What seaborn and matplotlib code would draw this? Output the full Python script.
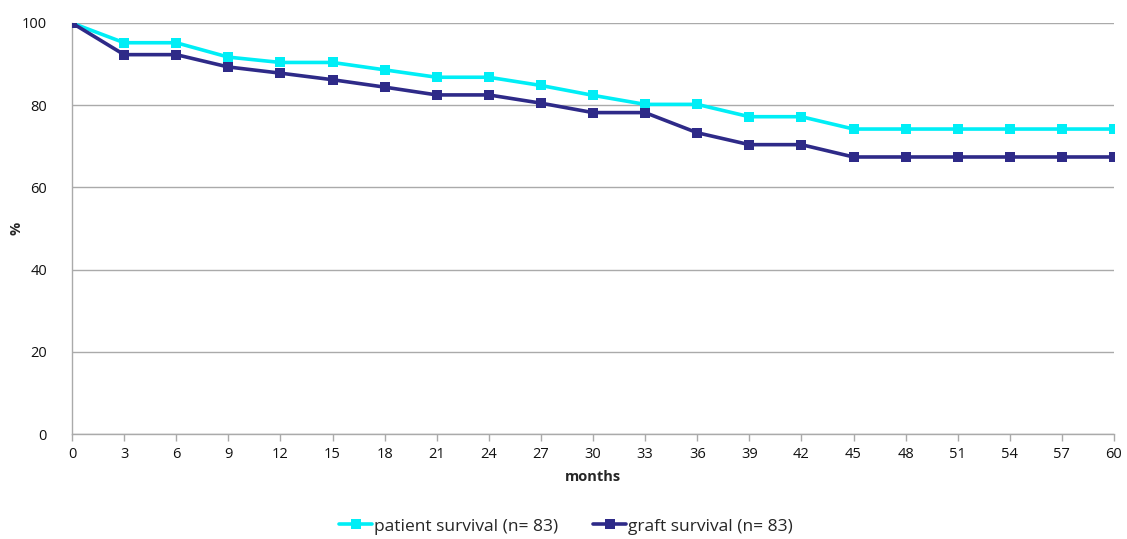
import matplotlib
matplotlib.use("Agg")
import matplotlib.pyplot as plt
import seaborn as sns
import pandas as pd

# Survival over time (months after transplantation)
months = [0, 3, 6, 9, 12, 15, 18, 21, 24, 27, 30, 33, 36, 39, 42, 45, 48, 51, 54, 57, 60]
patient_survival = [100, 95.2, 95.2, 91.7, 90.4, 90.4, 88.6, 86.8, 86.8, 84.8, 82.4, 80.2, 80.2,
                    77.2, 77.2, 74.2, 74.2, 74.2, 74.2, 74.2, 74.2]
graft_survival = [100, 92.3, 92.3, 89.3, 87.8, 86.2, 84.4, 82.5, 82.5, 80.5, 78.2, 78.2, 73.3,
                  70.4, 70.4, 67.4, 67.4, 67.4, 67.4, 67.4, 67.4]
series_names = ["patient survival (n= 83)", "graft survival (n= 83)"]
y_ticks = [0, 20, 40, 60, 80, 100]

df = pd.DataFrame({
    "months": months * 2,
    "value": patient_survival + graft_survival,
    "series": [series_names[0]] * len(months) + [series_names[1]] * len(months),
})

sns.set_theme(style="white")
plt.rcParams["font.family"] = ["Open Sans", "DejaVu Sans"]

fig = plt.figure(figsize=(11.27, 5.39), dpi=100)
ax = fig.add_axes([72 / 1127, 1 - 434 / 539, (1114 - 72) / 1127, (434 - 23) / 539])

palette = {series_names[0]: "#00EEF6", series_names[1]: "#2E2A88"}
sns.lineplot(data=df, x="months", y="value", hue="series", palette=palette,
             marker="s", markersize=7, markeredgewidth=0, linewidth=2.6,
             ax=ax, legend=True, zorder=3)

ax.set_xlim(0, 60)
ax.set_ylim(0, 100)
ax.set_xticks(months)
ax.set_xticklabels([str(m) for m in months], fontsize=10.5, color="#111111")
ax.set_yticks(y_ticks)
ax.set_yticklabels([str(v) for v in y_ticks], fontsize=10.5, color="#111111")
ax.yaxis.grid(True, color="#AAAAAA", linewidth=1)
ax.set_axisbelow(True)

for side in ("top", "right"):
    ax.spines[side].set_visible(False)
for side in ("left", "bottom"):
    ax.spines[side].set_color("#AAAAAA")
    ax.spines[side].set_linewidth(1)

ax.tick_params(axis="x", bottom=True, length=5, width=1, color="#AAAAAA", pad=4)
ax.tick_params(axis="y", left=False, pad=12)

ax.set_xlabel("months", fontsize=10.5, fontweight="bold", labelpad=6)
ax.set_ylabel("%", fontsize=10.5, fontweight="bold")
ax.yaxis.set_label_coords(-0.047, 0.5)

handles, labels = ax.get_legend_handles_labels()
ax.legend(handles, labels, loc="center", bbox_to_anchor=((566 - 72) / 1042, -0.225), ncol=2,
          frameon=False, fontsize=12.5, handlelength=1.9, handletextpad=0.1,
          columnspacing=2.0)

fig.savefig("out.png", dpi=100)
